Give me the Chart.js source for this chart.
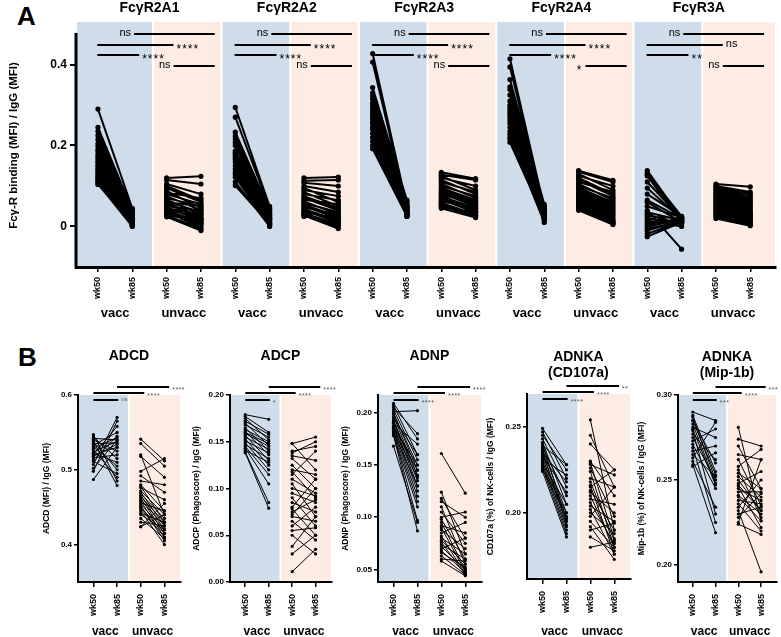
<!DOCTYPE html>
<html>
<head>
<meta charset="utf-8">
<script src="https://cdn.jsdelivr.net/npm/chart.js@4.4.0/dist/chart.umd.min.js"></script>
<style>
  body { margin: 0; background: #fff; width: 781px; height: 637px; overflow: hidden; position: relative;
         font-family: "Liberation Sans", Arial, sans-serif; }
  canvas { position: absolute; }
  .panel { position: absolute; font-weight: bold; font-size: 26px; line-height: 1; }
</style>
</head>
<body>
<div class="panel" style="left:17px;top:3px">A</div>
<div class="panel" style="left:18px;top:344px">B</div>
<canvas id="panelA" width="781" height="330" style="left:0;top:0"></canvas>
<canvas id="adcd" width="186" height="307" style="left:0;top:330px"></canvas>
<canvas id="adcp" width="150" height="307" style="left:186px;top:330px"></canvas>
<canvas id="adnp" width="150" height="307" style="left:336px;top:330px"></canvas>
<canvas id="cd107a" width="150" height="307" style="left:486px;top:330px"></canvas>
<canvas id="mip1b" width="145" height="307" style="left:636px;top:330px"></canvas>
<script>
// ---- labels ----
const timepoints = ['wk50', 'wk85'];
const cohorts = ['vacc', 'unvacc'];
const receptorNames = ['FcγR2A1', 'FcγR2A2', 'FcγR2A3', 'FcγR2A4', 'FcγR3A'];
const receptorSig = [
  ['ns', '****', '****', 'ns'],
  ['ns', '****', '****', 'ns'],
  ['ns', '****', '****', 'ns'],
  ['ns', '****', '****', '*'],
  ['ns', 'ns', '**', 'ns']
];

// ---- panel A: [wk50, wk85] per animal ----
const r2a1Vacc = [[0.29,0.045],[0.245,0.04],[0.235,0.038],[0.225,0.036],[0.215,0.035],[0.205,0.03],[0.198,0.028],[0.19,0.032],[0.185,0.025],[0.178,0.027],[0.172,0.022],[0.168,0.02],[0.162,0.024],[0.158,0.018],[0.152,0.015],[0.148,0.02],[0.143,0.012],[0.139,0.016],[0.135,0.01],[0.131,0.013],[0.127,0.008],[0.123,0.006],[0.12,0.01],[0.116,0.004],[0.113,0.003],[0.11,0.002],[0.106,0.0],[0.104,0.005]];
const r2a1Unvacc = [[0.12,0.124],[0.115,0.105],[0.105,0.08],[0.1,0.065],[0.095,0.06],[0.088,0.045],[0.084,0.07],[0.08,0.055],[0.075,0.04],[0.07,0.05],[0.066,0.03],[0.062,0.035],[0.058,0.025],[0.055,0.02],[0.05,0.04],[0.047,0.015],[0.044,0.02],[0.04,0.01],[0.037,0.005],[0.034,0.0],[0.03,0.008],[0.027,-0.005],[0.024,-0.01],[0.06,0.05],[0.045,0.03],[0.035,0.015]];
const r2a2Vacc = [[0.294,0.05],[0.27,0.045],[0.233,0.04],[0.223,0.035],[0.216,0.042],[0.208,0.03],[0.2,0.028],[0.187,0.025],[0.183,0.033],[0.179,0.02],[0.175,0.022],[0.171,0.018],[0.165,0.015],[0.159,0.012],[0.15,0.02],[0.142,0.01],[0.134,0.008],[0.128,0.005],[0.122,0.003],[0.11,0.0],[0.101,0.006]];
const r2a2Unvacc = [[0.12,0.122],[0.113,0.115],[0.108,0.1],[0.1,0.085],[0.095,0.06],[0.09,0.075],[0.085,0.05],[0.08,0.065],[0.075,0.045],[0.07,0.04],[0.066,0.055],[0.062,0.03],[0.058,0.035],[0.054,0.025],[0.05,0.02],[0.047,0.03],[0.043,0.015],[0.04,0.01],[0.036,0.02],[0.033,0.005],[0.03,0.0],[0.027,-0.005],[0.025,0.01]];
const r2a3Vacc = [[0.427,0.05],[0.406,0.045],[0.343,0.065],[0.33,0.04],[0.322,0.06],[0.314,0.035],[0.305,0.05],[0.297,0.03],[0.29,0.055],[0.283,0.04],[0.277,0.028],[0.27,0.045],[0.265,0.035],[0.258,0.03],[0.253,0.05],[0.245,0.025],[0.24,0.035],[0.23,0.03],[0.22,0.04],[0.21,0.028],[0.2,0.03],[0.192,0.025]];
const r2a3Unvacc = [[0.134,0.118],[0.128,0.115],[0.124,0.09],[0.12,0.1],[0.115,0.08],[0.11,0.085],[0.105,0.07],[0.1,0.075],[0.095,0.065],[0.09,0.06],[0.086,0.055],[0.082,0.05],[0.078,0.058],[0.074,0.045],[0.07,0.04],[0.066,0.035],[0.062,0.045],[0.058,0.03],[0.055,0.028],[0.052,0.025],[0.048,0.035],[0.045,0.022]];
const r2a4Vacc = [[0.414,0.045],[0.394,0.05],[0.363,0.055],[0.345,0.04],[0.338,0.035],[0.325,0.045],[0.31,0.03],[0.3,0.05],[0.294,0.025],[0.288,0.04],[0.282,0.03],[0.276,0.02],[0.27,0.035],[0.262,0.025],[0.255,0.045],[0.245,0.02],[0.235,0.03],[0.228,0.015],[0.22,0.01],[0.216,0.025],[0.208,0.02]];
const r2a4Unvacc = [[0.138,0.114],[0.135,0.11],[0.13,0.09],[0.125,0.1],[0.12,0.08],[0.115,0.075],[0.11,0.085],[0.105,0.065],[0.1,0.07],[0.095,0.06],[0.09,0.055],[0.085,0.05],[0.08,0.045],[0.076,0.04],[0.072,0.035],[0.068,0.03],[0.064,0.025],[0.06,0.02],[0.056,0.015],[0.052,0.012],[0.048,0.01],[0.044,0.008],[0.04,0.005]];
const r3aVacc = [[0.138,0.02],[0.132,0.025],[0.128,0.015],[0.125,0.01],[0.11,0.02],[0.095,0.018],[0.08,0.025],[0.065,0.02],[0.06,0.01],[0.05,0.022],[0.04,-0.056],[0.035,0.015],[0.03,0.005],[0.025,0.02],[0.02,0.01],[0.015,0.0],[0.01,0.015],[0.005,0.02],[0.0,0.018],[-0.005,0.01],[-0.01,0.015],[-0.018,0.012],[-0.025,0.01]];
const r3aUnvacc = [[0.105,0.098],[0.1,0.085],[0.096,0.08],[0.092,0.075],[0.088,0.07],[0.084,0.065],[0.08,0.06],[0.076,0.055],[0.072,0.05],[0.068,0.045],[0.064,0.04],[0.06,0.035],[0.056,0.03],[0.052,0.028],[0.048,0.025],[0.044,0.022],[0.04,0.02],[0.036,0.016],[0.032,0.012],[0.028,0.008],[0.024,0.005],[0.02,0.002]];

// ---- panel B ----
const adcdVacc = [[0.487,0.53],[0.498,0.565],[0.502,0.54],[0.507,0.57],[0.511,0.495],[0.513,0.545],[0.516,0.52],[0.518,0.534],[0.52,0.558],[0.522,0.51],[0.524,0.538],[0.527,0.49],[0.529,0.543],[0.531,0.505],[0.533,0.55],[0.535,0.536],[0.538,0.479],[0.54,0.525],[0.542,0.54],[0.544,0.515],[0.547,0.485],[0.538,0.5],[0.52,0.53]];
const adcdUnvacc = [[0.541,0.512],[0.535,0.505],[0.52,0.44],[0.518,0.49],[0.498,0.515],[0.492,0.47],[0.485,0.48],[0.48,0.445],[0.478,0.43],[0.476,0.46],[0.472,0.44],[0.47,0.425],[0.468,0.435],[0.466,0.42],[0.464,0.43],[0.462,0.415],[0.46,0.425],[0.458,0.41],[0.456,0.445],[0.454,0.42],[0.452,0.405],[0.45,0.415],[0.448,0.41],[0.445,0.40],[0.442,0.43],[0.44,0.42],[0.435,0.408],[0.43,0.425],[0.424,0.455],[0.424,0.44]];
const adcpVacc = [[0.179,0.174],[0.177,0.16],[0.175,0.152],[0.172,0.158],[0.17,0.146],[0.168,0.155],[0.165,0.14],[0.163,0.15],[0.161,0.136],[0.159,0.145],[0.157,0.13],[0.155,0.142],[0.153,0.125],[0.151,0.138],[0.149,0.12],[0.147,0.132],[0.145,0.115],[0.143,0.105],[0.141,0.128],[0.139,0.085],[0.138,0.079],[0.16,0.148]];
const adcpUnvacc = [[0.148,0.155],[0.148,0.12],[0.14,0.145],[0.138,0.15],[0.135,0.13],[0.132,0.11],[0.125,0.10],[0.12,0.115],[0.118,0.09],[0.115,0.14],[0.11,0.095],[0.105,0.07],[0.10,0.092],[0.095,0.085],[0.09,0.06],[0.085,0.075],[0.08,0.11],[0.078,0.05],[0.075,0.088],[0.07,0.065],[0.065,0.045],[0.06,0.08],[0.055,0.058],[0.05,0.03],[0.038,0.07],[0.03,0.05],[0.011,0.035],[0.072,0.1]];
const adnpVacc = [[0.209,0.175],[0.207,0.16],[0.205,0.18],[0.203,0.155],[0.201,0.202],[0.2,0.145],[0.199,0.15],[0.197,0.14],[0.195,0.16],[0.193,0.135],[0.191,0.13],[0.19,0.17],[0.188,0.125],[0.187,0.145],[0.185,0.12],[0.184,0.138],[0.182,0.115],[0.181,0.13],[0.18,0.097],[0.179,0.11],[0.178,0.087],[0.168,0.095],[0.186,0.15],[0.192,0.14]];
const adnpUnvacc = [[0.161,0.123],[0.124,0.065],[0.118,0.08],[0.115,0.10],[0.11,0.055],[0.105,0.075],[0.1,0.105],[0.098,0.06],[0.095,0.05],[0.092,0.085],[0.09,0.048],[0.088,0.07],[0.085,0.095],[0.082,0.046],[0.08,0.065],[0.078,0.055],[0.076,0.045],[0.074,0.06],[0.072,0.05],[0.07,0.08],[0.068,0.047],[0.066,0.052],[0.063,0.045],[0.06,0.058],[0.058,0.044]];
const cd107aVacc = [[0.249,0.228],[0.247,0.22],[0.245,0.225],[0.243,0.215],[0.241,0.205],[0.239,0.228],[0.238,0.21],[0.237,0.2],[0.235,0.218],[0.234,0.197],[0.233,0.212],[0.232,0.195],[0.231,0.222],[0.23,0.192],[0.229,0.205],[0.228,0.19],[0.227,0.2],[0.226,0.188],[0.225,0.198],[0.224,0.186],[0.236,0.193],[0.24,0.196]];
const cd107aUnvacc = [[0.254,0.19],[0.245,0.215],[0.24,0.225],[0.23,0.21],[0.229,0.185],[0.228,0.222],[0.226,0.198],[0.224,0.18],[0.22,0.215],[0.218,0.184],[0.215,0.225],[0.213,0.19],[0.21,0.18],[0.208,0.205],[0.206,0.182],[0.204,0.195],[0.202,0.176],[0.2,0.188],[0.198,0.215],[0.195,0.18],[0.192,0.173],[0.19,0.194],[0.186,0.178],[0.18,0.183],[0.212,0.2],[0.216,0.176]];
const mip1bVacc = [[0.29,0.285],[0.288,0.255],[0.287,0.25],[0.285,0.26],[0.283,0.248],[0.281,0.275],[0.279,0.23],[0.277,0.262],[0.275,0.25],[0.273,0.28],[0.271,0.245],[0.269,0.225],[0.267,0.27],[0.265,0.252],[0.263,0.284],[0.261,0.234],[0.259,0.219],[0.258,0.266],[0.28,0.247],[0.285,0.253]];
const mip1bUnvacc = [[0.281,0.226],[0.274,0.27],[0.27,0.245],[0.265,0.262],[0.262,0.235],[0.258,0.268],[0.256,0.228],[0.254,0.245],[0.252,0.24],[0.25,0.232],[0.248,0.255],[0.246,0.222],[0.245,0.238],[0.243,0.243],[0.241,0.23],[0.24,0.226],[0.238,0.236],[0.236,0.22],[0.234,0.25],[0.232,0.196],[0.23,0.234],[0.228,0.242],[0.225,0.262],[0.224,0.218],[0.247,0.232]];

Chart.defaults.font.family = "'Liberation Sans', Arial, sans-serif";
Chart.defaults.color = '#000';
Chart.defaults.animation = false;

const BLUE = '#cfdce9';
const PEACH = '#fcece3';

// each animal is one wk50 -> wk85 segment, null point breaks the line
function pairPoints(pairs, start) {
  const pts = [];
  pairs.forEach(p => {
    pts.push({x: start, y: p[0]}, {x: start + 1, y: p[1]}, {x: start + 0.5, y: null});
  });
  return pts;
}

function setTicks(vals) {
  return function (scale) { scale.ticks = vals.map(v => ({value: v})); };
}
function fixHeight(h) { return function (scale) { scale.height = h; }; }
function fixWidth(w) { return function (scale) { scale.width = w; }; }

// text-only axes (titles, group names): no tick marks, no line
const bare = {grid: {display: false, drawTicks: false, tickLength: 0}, border: {display: false}};

// coloured vacc / unvacc backgrounds (+ optional shortened y axis line)
const shadePlugin = {
  id: 'shade',
  beforeDraw(chart, args, opts) {
    const {ctx, chartArea} = chart;
    const x = chart.scales.x;
    const top = chartArea.top - (opts.extraTop || 0);
    ctx.save();
    opts.bands.forEach(b => {
      let l = Math.max(x.getPixelForValue(b.from) + 1, chartArea.left);
      let r = Math.min(x.getPixelForValue(b.to) - 1, chartArea.right);
      ctx.fillStyle = b.color;
      ctx.fillRect(l, top, r - l, chartArea.bottom - top);
    });
    ctx.restore();
  },
  afterDraw(chart, args, opts) {
    if (opts.axisTop === undefined) return;
    const {ctx, chartArea} = chart;
    const y = chart.scales.y;
    ctx.save();
    ctx.strokeStyle = '#000';
    ctx.lineWidth = 3;
    ctx.beginPath();
    ctx.moveTo(chartArea.left, y.getPixelForValue(opts.axisTop));
    ctx.lineTo(chartArea.left, chartArea.bottom + 1.5);
    ctx.stroke();
    ctx.restore();
  }
};

// significance bars
const bracketPlugin = {
  id: 'brackets',
  afterDraw(chart, args, opts) {
    const {ctx, chartArea} = chart;
    const x = chart.scales.x;
    ctx.save();
    opts.items.forEach(b => {
      const x1 = x.getPixelForValue(b.x1), x2 = x.getPixelForValue(b.x2);
      const y = chartArea.top + b.y;
      ctx.strokeStyle = '#000';
      ctx.lineWidth = opts.lineWidth;
      ctx.beginPath();
      ctx.moveTo(x1, y);
      ctx.lineTo(x2, y);
      ctx.stroke();
      const star = b.text.indexOf('*') >= 0;
      const size = star ? opts.starSize : opts.nsSize;
      ctx.font = size + "px 'Liberation Sans', Arial, sans-serif";
      ctx.letterSpacing = star ? opts.spacing + 'px' : '0px';
      ctx.fillStyle = opts.color;
      ctx.textBaseline = 'alphabetic';
      const ty = y + (star ? size * 0.66 : size * 0.2);
      if (b.side === 'after') {
        ctx.textAlign = 'left';
        ctx.fillText(b.text, x2 + 3, ty);
      } else {
        ctx.textAlign = 'right';
        ctx.fillText(b.text, x1 - 3, ty);
      }
    });
    ctx.restore();
  }
};

// ---------------- panel A ----------------
const aMin = -0.64, aMax = 19.75;
const aGroups = [
  [r2a1Vacc, r2a1Unvacc], [r2a2Vacc, r2a2Unvacc], [r2a3Vacc, r2a3Unvacc],
  [r2a4Vacc, r2a4Unvacc], [r3aVacc, r3aUnvacc]
];
const aSets = [];
const aBands = [];
const aBrackets = [];
aGroups.forEach((g, i) => {
  const b = i * 4;
  aSets.push({data: pairPoints(g[0], b)}, {data: pairPoints(g[1], b + 2)});
  aBands.push({from: i === 0 ? aMin : b - 0.4, to: b + 1.6, color: BLUE});
  aBands.push({from: b + 1.6, to: i === 4 ? aMax : b + 3.6, color: PEACH});
  const s = receptorSig[i];
  aBrackets.push(
    {x1: b + 1.05, x2: b + 3.4, y: 10, text: s[0], side: 'before'},
    {x1: b - 0.02, x2: b + 2.2, y: 21, text: s[1], side: 'after'},
    {x1: b - 0.02, x2: b + 1.2, y: 31, text: s[2], side: 'after'},
    {x1: b + 2.2, x2: b + 3.4, y: 42, text: s[3], side: 'before'}
  );
});

new Chart(document.getElementById('panelA'), {
  type: 'line',
  data: {datasets: aSets},
  options: {
    responsive: false,
    layout: {padding: {left: 0, right: 5, top: 0, bottom: 0}},
    elements: {
      line: {borderColor: '#000', borderWidth: 2},
      point: {radius: 2.6, backgroundColor: '#000', borderWidth: 0}
    },
    plugins: {
      legend: {display: false},
      tooltip: {enabled: false},
      shade: {bands: aBands, extraTop: 2, axisTop: 0.478},
      brackets: {items: aBrackets, lineWidth: 2, starSize: 12, nsSize: 11, spacing: 1, color: '#000'}
    },
    scales: {
      x: {
        type: 'linear', position: 'bottom', weight: 0, min: aMin, max: aMax,
        afterBuildTicks: setTicks([0,1,2,3,4,5,6,7,8,9,10,11,12,13,14,15,16,17,18,19]),
        afterFit: fixHeight(36),
        ticks: {autoSkip: false, minRotation: 90, maxRotation: 90, padding: 5,
                font: {size: 9, weight: 'bold'}, callback: v => timepoints[Math.round(v) % 2]},
        grid: {drawOnChartArea: false, tickLength: 5, color: '#000', lineWidth: 1.5},
        border: {color: '#000', width: 3}
      },
      xg: Object.assign({
        type: 'linear', position: 'bottom', weight: 1, min: aMin, max: aMax,
        afterBuildTicks: setTicks([0.5,2.5,4.5,6.5,8.5,10.5,12.5,14.5,16.5,18.5]),
        afterFit: fixHeight(27),
        ticks: {autoSkip: false, maxRotation: 0, padding: 3, font: {size: 13, weight: 'bold'},
                callback: v => cohorts[Math.floor(v / 2) % 2]}
      }, bare),
      xt: Object.assign({
        type: 'linear', position: 'top', min: aMin, max: aMax,
        afterBuildTicks: setTicks([1.5,5.5,9.5,13.5,17.5]),
        afterFit: fixHeight(24),
        ticks: {autoSkip: false, maxRotation: 0, padding: 7, font: {size: 14, weight: 'bold'},
                callback: v => receptorNames[Math.floor(v / 4)]}
      }, bare),
      y: {
        min: -0.1, max: 0.5,
        afterBuildTicks: setTicks([0, 0.2, 0.4]),
        afterFit: fixWidth(76),
        ticks: {padding: 3, font: {size: 12, weight: 'bold'}, callback: v => v === 0 ? '0' : v.toFixed(1)},
        grid: {drawOnChartArea: false, tickLength: 6, color: '#000', lineWidth: 2},
        border: {display: false},
        title: {display: true, text: 'Fcγ-R binding (MFI) / IgG (MFI)', font: {size: 11.5, weight: 'bold'},
                padding: {top: 7, bottom: 0}}
      }
    }
  },
  plugins: [shadePlugin, bracketPlugin]
});

// ---------------- panel B ----------------
const bMin = -0.65, bMax = 3.7;

function makeB(id, c) {
  new Chart(document.getElementById(id), {
    type: 'line',
    data: {datasets: [{data: pairPoints(c.vacc, 0)}, {data: pairPoints(c.unvacc, 2)}]},
    options: {
      responsive: false,
      layout: {padding: {left: 0, right: c.padRight, top: 0, bottom: 0}},
      elements: {
        line: {borderColor: '#000', borderWidth: 1},
        point: {radius: 1.6, backgroundColor: '#000', borderWidth: 0}
      },
      plugins: {
        legend: {display: false},
        tooltip: {enabled: false},
        shade: {bands: [{from: bMin, to: 1.5, color: BLUE}, {from: 1.5, to: bMax, color: PEACH}]},
        brackets: {
          lineWidth: 2, starSize: 7, nsSize: 6, spacing: 0.5, color: '#555',
          items: [
            {x1: 1.0, x2: 3.2, y: -8, text: c.sig[0], side: 'after'},
            {x1: 0.0, x2: 2.15, y: -2, text: c.sig[1], side: 'after'},
            {x1: 0.0, x2: 1.05, y: 5, text: c.sig[2], side: 'after'}
          ]
        }
      },
      scales: {
        x: {
          type: 'linear', position: 'bottom', weight: 0, min: bMin, max: bMax,
          afterBuildTicks: setTicks([0, 1, 2, 3]),
          afterFit: fixHeight(38),
          ticks: {autoSkip: false, minRotation: 90, maxRotation: 90, padding: 7,
                  font: {size: 9, weight: 'bold'}, callback: v => timepoints[Math.round(v) % 2]},
          grid: {drawOnChartArea: false, tickLength: 5, color: '#000', lineWidth: 1.5},
          border: {color: '#000', width: 2}
        },
        xg: Object.assign({
          type: 'linear', position: 'bottom', weight: 1, min: bMin, max: bMax,
          afterBuildTicks: setTicks([0.5, 2.5]),
          afterFit: fixHeight(c.groupH),
          ticks: {autoSkip: false, maxRotation: 0, padding: c.groupPad, font: {size: 12, weight: 'bold'},
                  callback: v => cohorts[Math.floor(v / 2)]}
        }, bare),
        xt: Object.assign({
          type: 'linear', position: 'top', min: bMin, max: bMax,
          afterBuildTicks: setTicks([1.5]),
          afterFit: fixHeight(c.topH),
          ticks: {autoSkip: false, maxRotation: 0, padding: c.titlePad, font: {size: 14, weight: 'bold'},
                  callback: () => c.title}
        }, bare),
        y: {
          min: c.yMin, max: c.yMax,
          afterBuildTicks: setTicks(c.yTicks),
          afterFit: fixWidth(c.yWidth),
          ticks: {padding: 2, font: {size: 8, weight: 'bold'}, callback: v => v.toFixed(c.decimals)},
          grid: {drawOnChartArea: false, tickLength: 4, color: '#000', lineWidth: 1.5},
          border: {color: '#000', width: 2},
          title: {display: true, text: c.yTitle, font: {size: 8.5, weight: 'bold'},
                  padding: {top: c.yTitlePad, bottom: 0}}
        }
      }
    },
    plugins: [shadePlugin, bracketPlugin]
  });
}

makeB('adcd', {
  vacc: adcdVacc, unvacc: adcdUnvacc, title: 'ADCD', titlePad: 30.6,
  yMin: 0.35, yMax: 0.6, yTicks: [0.4, 0.5, 0.6], decimals: 1,
  yTitle: 'ADCD (MFI) / IgG (MFI)', yWidth: 78, yTitlePad: 42, padRight: 5,
  topH: 65, groupH: 17, groupPad: 4, sig: ['****', '****', 'ns']
});
makeB('adcp', {
  vacc: adcpVacc, unvacc: adcpUnvacc, title: 'ADCP', titlePad: 30.6,
  yMin: 0, yMax: 0.2, yTicks: [0, 0.05, 0.1, 0.15, 0.2], decimals: 2,
  yTitle: 'ADCP (Phagoscore) / IgG (MFI)', yWidth: 44, yTitlePad: 6, padRight: 4,
  topH: 65, groupH: 17, groupPad: 4, sig: ['****', '****', '*']
});
makeB('adnp', {
  vacc: adnpVacc, unvacc: adnpUnvacc, title: 'ADNP', titlePad: 30.6,
  yMin: 0.038, yMax: 0.217, yTicks: [0.05, 0.1, 0.15, 0.2], decimals: 2,
  yTitle: 'ADNP (Phagoscore) / IgG (MFI)', yWidth: 42, yTitlePad: 4.5, padRight: 3,
  topH: 65, groupH: 17, groupPad: 4, sig: ['****', '****', '****']
});
makeB('cd107a', {
  vacc: cd107aVacc, unvacc: cd107aUnvacc, title: ['ADNKA', '(CD107a)'], titlePad: 12,
  yMin: 0.1616, yMax: 0.269, yTicks: [0.2, 0.25], decimals: 2,
  yTitle: 'CD107a (%) of NK-cells / IgG (MFI)', yWidth: 41, yTitlePad: 0, padRight: 5,
  topH: 64, groupH: 20, groupPad: 7, sig: ['**', '****', '****']
});
makeB('mip1b', {
  vacc: mip1bVacc, unvacc: mip1bUnvacc, title: ['ADNKA', '(Mip-1b)'], titlePad: 13,
  yMin: 0.19, yMax: 0.30, yTicks: [0.2, 0.25, 0.3], decimals: 2,
  yTitle: 'Mip-1b (%) of NK-cells / IgG (MFI)', yWidth: 42, yTitlePad: 1, padRight: 0,
  topH: 65, groupH: 17, groupPad: 4, sig: ['***', '****', '***']
});
</script>
</body>
</html>
